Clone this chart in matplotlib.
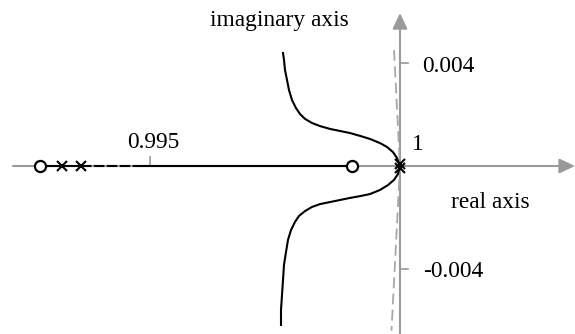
import numpy as np
import matplotlib.pyplot as plt

plt.rcParams['font.family'] = ['Liberation Serif', 'DejaVu Serif']

# open-loop zeros and poles (z-plane)
zero_re = [0.9928, 0.99904]
pole_re = [0.99324, 0.99362]
pole_one = [1.0, 1.0]
pole_one_im = [0.00009, -0.00009]

# complex branches leaving z = 1
upper_re = [1.0, 0.99994, 0.99986, 0.99974, 0.9996, 0.9994, 0.9992, 0.999,
            0.9988, 0.9986, 0.9984, 0.99824, 0.9981, 0.998, 0.99792, 0.99784,
            0.99778, 0.99774, 0.9977, 0.99768, 0.99766]
upper_im = [0.0, 0.00031, 0.00054, 0.00074, 0.00089, 0.00105, 0.00117, 0.00128,
            0.00136, 0.00144, 0.00155, 0.00167, 0.00183, 0.00202, 0.00225, 0.00256,
            0.00295, 0.00334, 0.00373, 0.00412, 0.00439]
lower_re = [1.0, 0.99996, 0.99988, 0.99976, 0.9996, 0.9994, 0.9992, 0.999,
            0.9988, 0.9986, 0.9984, 0.99824, 0.9981, 0.99798, 0.9979, 0.99782,
            0.99776, 0.99772, 0.99768, 0.99766, 0.99764, 0.99762, 0.99762]
lower_im = [0.0, -0.00031, -0.00054, -0.00074, -0.00093, -0.00109, -0.00117, -0.00124,
            -0.00132, -0.0014, -0.00148, -0.00159, -0.00175, -0.00194, -0.00217, -0.00249,
            -0.00287, -0.00334, -0.00384, -0.00443, -0.00501, -0.00559, -0.00617]

# constant damping boundary through z = 1
damp_re = [0.99988, 1.0, 0.99983]
damp_im = [0.0045, 0.0, -0.0064]

sx = 2e-5          # real units per pixel
sy = 0.004 / 103   # imaginary units per pixel

fig = plt.figure(figsize=(5.75, 3.34), dpi=100)
ax = fig.add_axes([0, 0, 1, 1])
ax.set_xlim(1 - 400 * sx, 1 + 175 * sx)
ax.set_ylim(-168 * sy, 166 * sy)
ax.axis('off')

gray = '#9a9a9a'
arrow = dict(arrowstyle='-|>,head_length=0.95,head_width=0.45', color=gray,
             lw=1.5, shrinkA=0, shrinkB=0, mutation_scale=10)
ax.annotate('', xy=(1 + 175 * sx, 0), xytext=(1 - 387 * sx, 0), arrowprops=arrow)
ax.annotate('', xy=(1, 153 * sy), xytext=(1, -170 * sy), arrowprops=arrow)

# ticks
ax.plot([0.995, 0.995], [0, 9 * sy], color=gray, lw=1.2)
for v in (0.004, -0.004):
    ax.plot([1, 1 + 8 * sx], [v, v], color=gray, lw=1.2)

ax.plot(damp_re, damp_im, color='#a8a8a8', lw=1.3, dashes=(6, 3), zorder=4)

# real axis part of the locus
lk = dict(color='black', lw=1.5, zorder=5)
ax.plot([zero_re[0], pole_re[1]], [0, 0], **lk)
ax.plot([pole_re[1], 0.99475], [0, 0], dashes=(5, 1.2), **lk)
ax.plot([0.99475, zero_re[1]], [0, 0], **lk)

ax.plot(upper_re, upper_im, **lk)
ax.plot(lower_re, lower_im, **lk)

ax.plot(zero_re, [0, 0], 'o', ms=8, mfc='white', mec='black', mew=1.6, zorder=6)
ax.plot(pole_re, [0, 0], 'x', ms=6.5, color='black', mew=1.5, zorder=6)
ax.plot(pole_one, pole_one_im, 'x', ms=6.5, color='black', mew=1.5, zorder=6)

fs = 16.8
ax.text(0.99758, 0.00544, 'imaginary axis', fontsize=fs, ha='center', va='baseline')
ax.text(1.00044, 0.00365, '0.004', fontsize=fs, ha='left', va='baseline')
ax.text(1.00046, -0.00431, '-0.004', fontsize=fs, ha='left', va='baseline')
ax.text(0.99506, 0.0007, '0.995', fontsize=fs, ha='center', va='baseline')
ax.text(1.00024, 0.00062, '1', fontsize=fs, ha='left', va='baseline')
ax.text(1.0018, -0.00163, 'real axis', fontsize=fs, ha='center', va='baseline')

fig.savefig('out.png', dpi=100)
